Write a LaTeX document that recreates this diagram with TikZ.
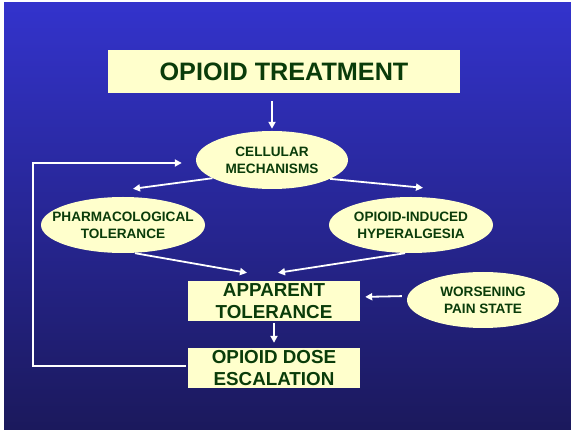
\documentclass[tikz,border=0pt]{standalone}
\usepackage{fontspec}
\setmainfont{Liberation Sans}
\usetikzlibrary{shapes.geometric,arrows.meta}

\definecolor{slidetop}{RGB}{51,51,204}
\definecolor{slidebot}{RGB}{27,25,92}
\definecolor{boxfill}{RGB}{255,255,204}
\definecolor{boxtext}{RGB}{10,60,10}

\tikzset{
	box/.style={rectangle, fill=boxfill, text=boxtext, font=\bfseries\fontsize{18.8}{21.5}\selectfont, align=center, inner sep=0pt},
	oval/.style={ellipse, fill=boxfill, text=boxtext, font=\bfseries\fontsize{13.6}{16.8}\selectfont, align=center, inner xsep=-18pt, inner ysep=-3pt},
	arr/.style={draw=white, line width=1.8pt, -{Triangle[length=7pt,width=7pt]}}
}

\begin{document}
\begin{tikzpicture}[x=1pt,y=-1pt]
		\useasboundingbox (0,0) rectangle (571,430);
		\fill[white] (0,0) rectangle (571,430);
		\shade[top color=slidetop, bottom color=slidebot] (4,3) rectangle (571,430);

		% boxes
		\node[box, minimum width=352pt, minimum height=43pt, font=\bfseries\fontsize{25.2}{28}\selectfont] (treat) at (284,71.5) {OPIOID TREATMENT};
		\node[box, minimum width=172pt, minimum height=40pt] (appar) at (274,301) {APPARENT\\TOLERANCE};
		\node[box, minimum width=172pt, minimum height=40pt] (dose) at (274,368) {OPIOID DOSE\\ESCALATION};

		% ovals
		\node[oval, minimum width=152pt, minimum height=58pt] (cell) at (272,160) {CELLULAR\\MECHANISMS};
		\node[oval, minimum width=164pt, minimum height=56pt] (pharm) at (123,225) {PHARMACOLOGICAL\\TOLERANCE};
		\node[oval, minimum width=164pt, minimum height=56pt] (hyper) at (411,225) {OPIOID-INDUCED\\HYPERALGESIA};
		\node[oval, minimum width=152pt, minimum height=56pt] (worse) at (483,300) {WORSENING\\PAIN STATE};

		\coordinate (loop) at (33,163);

		% arrows
		\draw[arr, shorten <=8pt, shorten >=2pt] (treat.south -| cell.north) -- (cell.north);
		\draw[arr] (cell.197) -- ([xshift=10pt,yshift=8pt]pharm.north);
		\draw[arr] (cell.342) -- ([xshift=12pt,yshift=9pt]hyper.north);
		\draw[arr] ([xshift=12pt]pharm.south) -- ([xshift=-27pt,yshift=8pt]appar.north);
		\draw[arr] ([xshift=-6pt]hyper.south) -- ([xshift=4pt,yshift=8pt]appar.north);
		\draw[arr, shorten <=5pt, shorten >=5pt] ([yshift=4pt]worse.west) -- ([yshift=4pt]appar.east);
		\draw[arr, shorten <=2pt, shorten >=5pt] (appar.south) -- (dose.north);
		\draw[arr, shorten <=2pt, shorten >=14pt] ([yshift=2pt]dose.west) -| (loop) -- (loop -| cell.west);
	\end{tikzpicture}
\end{document}
